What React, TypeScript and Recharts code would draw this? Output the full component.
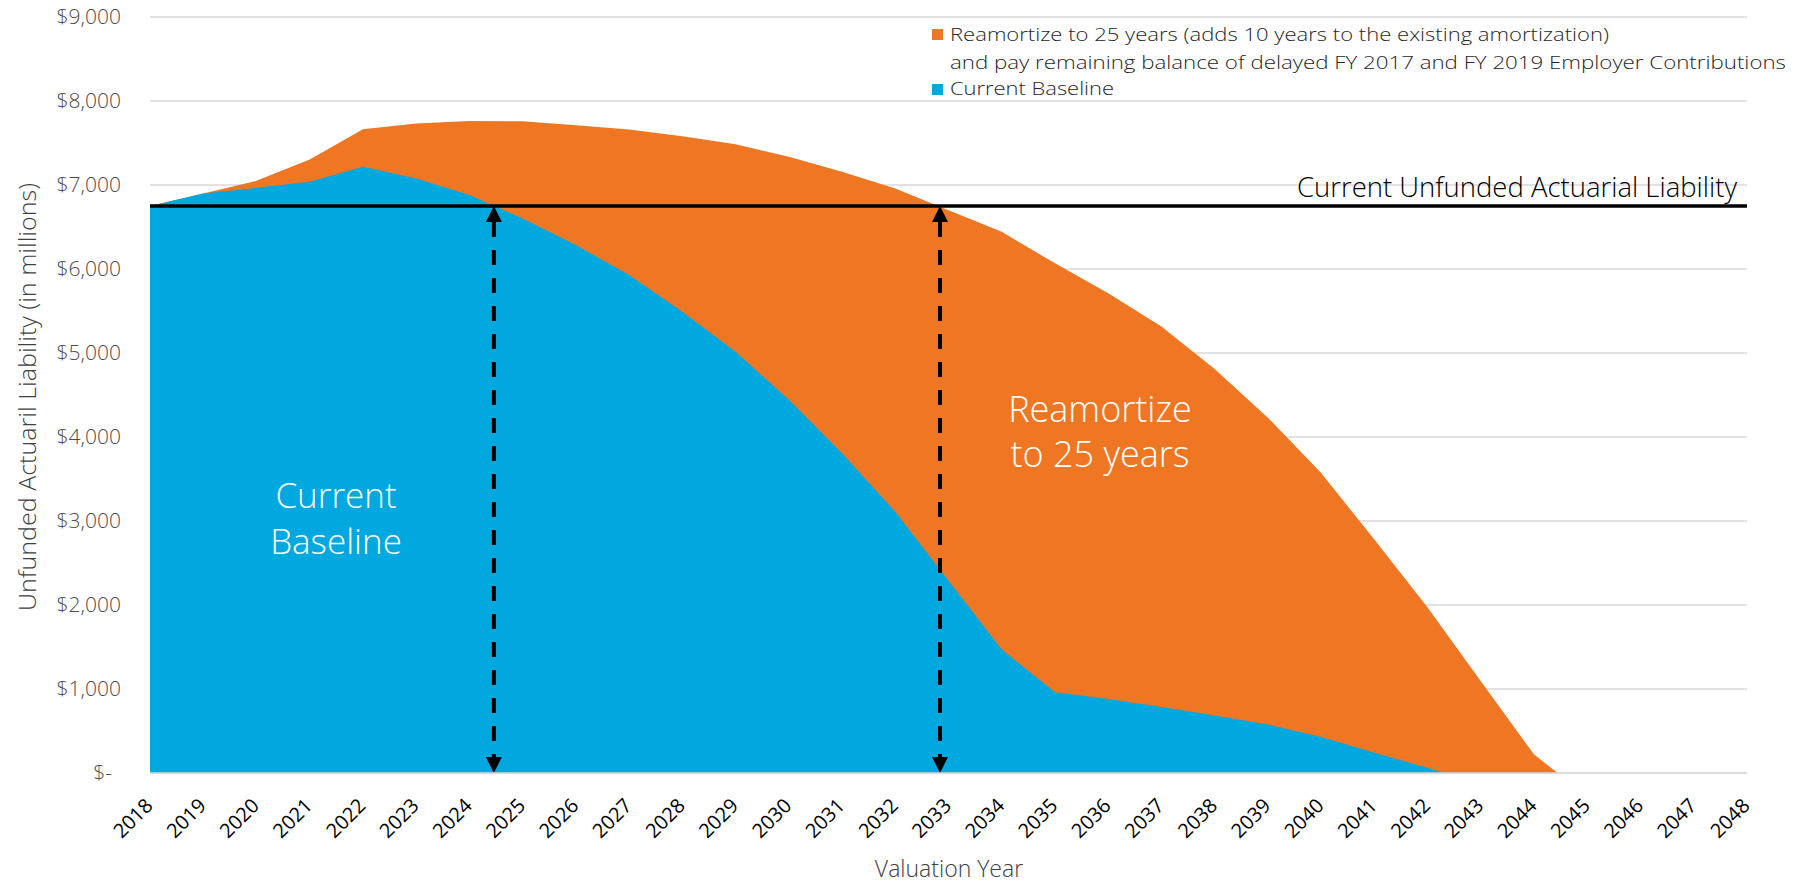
import React from "react"
import { AreaChart, Area, XAxis, YAxis, CartesianGrid, ReferenceLine } from "recharts"

// valuation years on the x axis
const years = [
  2018, 2019, 2020, 2021, 2022, 2023, 2024, 2025, 2026, 2027, 2028, 2029, 2030, 2031, 2032, 2033,
  2034, 2035, 2036, 2037, 2038, 2039, 2040, 2041, 2042, 2043, 2044, 2045, 2046, 2047, 2048,
]

// unfunded liability ($ millions), reamortize to 25 years
const reamortize = [
  6750, 6900, 7050, 7304, 7664, 7732, 7763, 7759, 7712, 7661, 7581, 7486, 7335, 7157, 6959, 6700,
  6443, 6067, 5711, 5314, 4810, 4230, 3570, 2780, 1969, 1092, 220, -275, -275, -275, -275,
]

// unfunded liability ($ millions), current baseline
const baseline = [
  6750, 6900, 6966, 7038, 7216, 7078, 6880, 6602, 6285, 5928, 5492, 5016, 4442, 3808, 3110, 2290,
  1469, 961, 882, 787, 684, 577, 430, 240, 62, -140, -140, -140, -140, -140, -140,
]

const yTicks = [0, 1000, 2000, 3000, 4000, 5000, 6000, 7000, 8000, 9000]

// current unfunded actuarial liability (horizontal line)
const currentUal = 6750

// years where each scenario drops below the current liability
const crossYears = [2024.46, 2032.84]

const data = years.map((year, i) => ({
  year,
  reamortize: reamortize[i],
  baseline: baseline[i],
}))

const FONT = "'Open Sans', 'DejaVu Sans', sans-serif"
const BLUE = "#00a8e0"
const ORANGE = "#ef7622"

const fmtMoney = (v: number) => (v === 0 ? "$-" : "$" + v.toLocaleString("en-US"))

const YTick = ({ x, y, payload }: any) => (
  <text
    x={payload.value === 0 ? x - 38 : x - 29}
    y={y}
    dy="0.35em"
    textAnchor="end"
    fontFamily={FONT}
    fontWeight={300}
    fontSize={21}
    fill="#4d4d4d"
  >
    {fmtMoney(payload.value)}
  </text>
)

const XTick = ({ x, y, payload }: any) => (
  <g transform={`translate(${x + 4},${y + 34})`}>
    <text textAnchor="end" transform="rotate(-45)" fontFamily={FONT} fontSize={20} fill="#000">
      {payload.value}
    </text>
  </g>
)

const DashedArrow = (p: any) => {
  const { x1, y1, x2, y2 } = p
  const h = 16
  const w = 8
  return (
    <g>
      <line x1={x1} y1={y1 + h} x2={x2} y2={y2 - h} stroke="#000" strokeWidth={4} strokeDasharray="15 13" />
      <polygon points={`${x1},${y1} ${x1 - w},${y1 + h} ${x1 + w},${y1 + h}`} fill="#000" />
      <polygon points={`${x2},${y2} ${x2 - w},${y2 - h} ${x2 + w},${y2 - h}`} fill="#000" />
    </g>
  )
}

const UalLabel = (props: any) => {
  const vb = props.viewBox
  return (
    <text
      x={vb.x + vb.width - 10}
      y={vb.y - 9}
      textAnchor="end"
      fontFamily={FONT}
      fontWeight={300}
      fontSize={27}
      fill="#000"
      textLength={440}
      lengthAdjust="spacingAndGlyphs"
    >
      Current Unfunded Actuarial Liability
    </text>
  )
}

export default function App() {
  return (
    <div style={{ position: "absolute", left: 0, top: 0, width: 1808, height: 883, background: "#fff" }}>
      <AreaChart width={1808} height={883} data={data} margin={{ top: 17, right: 61, left: 60, bottom: 30 }}>
        <CartesianGrid vertical={false} stroke="#d9d9d9" strokeWidth={1.5} />
        <XAxis
          dataKey="year"
          type="number"
          domain={[2018, 2048]}
          ticks={years}
          interval={0}
          height={80}
          tickSize={0}
          tickMargin={0}
          tickLine={false}
          axisLine={{ stroke: "#d9d9d9", strokeWidth: 1.5 }}
          tick={<XTick />}
        />
        <YAxis
          type="number"
          domain={[0, 9000]}
          ticks={yTicks}
          allowDataOverflow
          width={90}
          tickSize={0}
          tickMargin={0}
          tickLine={false}
          axisLine={false}
          tick={<YTick />}
        />
        <Area
          dataKey="reamortize"
          type="linear"
          fill={ORANGE}
          fillOpacity={1}
          stroke="none"
          isAnimationActive={false}
          dot={false}
          activeDot={false}
        />
        <Area
          dataKey="baseline"
          type="linear"
          fill={BLUE}
          fillOpacity={1}
          stroke="none"
          isAnimationActive={false}
          dot={false}
          activeDot={false}
        />
        <ReferenceLine y={currentUal} stroke="#000" strokeWidth={3.5} label={UalLabel} />
        {crossYears.map((yr) => (
          <ReferenceLine
            key={yr}
            segment={[
              { x: yr, y: currentUal },
              { x: yr, y: 0 },
            ]}
            shape={DashedArrow}
          />
        ))}
      </AreaChart>

      <svg
        width={1808}
        height={883}
        style={{ position: "absolute", left: 0, top: 0, pointerEvents: "none" }}
        fontFamily={FONT}
      >
        {/* legend */}
        <rect x={932} y={29} width={11} height={11} fill={ORANGE} />
        <text x={950} y={41} fontSize={19} fontWeight={300} fill="#262626" textLength={659} lengthAdjust="spacingAndGlyphs">
          Reamortize to 25 years (adds 10 years to the existing amortization)
        </text>
        <text x={950} y={68.5} fontSize={19} fontWeight={300} fill="#262626" textLength={836} lengthAdjust="spacingAndGlyphs">
          and pay remaining balance of delayed FY 2017 and FY 2019 Employer Contributions
        </text>
        <rect x={932} y={84} width={11} height={11} fill={BLUE} />
        <text x={950} y={95} fontSize={19} fontWeight={300} fill="#262626" textLength={164} lengthAdjust="spacingAndGlyphs">
          Current Baseline
        </text>

        {/* area annotations */}
        <text textAnchor="middle" fontSize={35} fontWeight={300} fill="#fff">
          <tspan x={336} y={508}>Current</tspan>
          <tspan x={336} y={554}>Baseline</tspan>
        </text>
        <text textAnchor="middle" fontSize={36} fontWeight={300} fill="#fff">
          <tspan x={1100} y={422}>Reamortize</tspan>
          <tspan x={1100} y={467}>to 25 years</tspan>
        </text>

        {/* axis titles */}
        <text
          x={36}
          y={397}
          transform="rotate(-90 36 397)"
          textAnchor="middle"
          fontSize={24}
          fontWeight={300}
          fill="#404040"
          textLength={428}
          lengthAdjust="spacingAndGlyphs"
        >
          Unfunded Actuaril Liability (in millions)
        </text>
        <text x={949} y={877} textAnchor="middle" fontSize={23} fontWeight={300} fill="#404040">
          Valuation Year
        </text>
      </svg>
    </div>
  )
}
